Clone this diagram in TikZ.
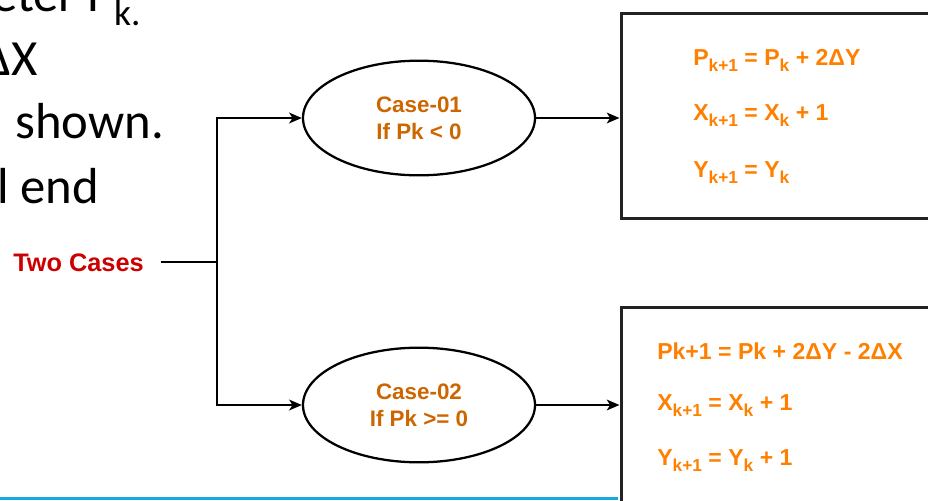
\documentclass[tikz,border=0pt]{standalone}
\usepackage{fontspec}
\setmainfont{Liberation Sans}
\newfontfamily\slidefont{Carlito}
\usetikzlibrary{arrows.meta,shapes.geometric}

\definecolor{eqorange}{RGB}{255,128,0}
\definecolor{caseorange}{RGB}{204,102,0}
\definecolor{casered}{RGB}{204,0,0}
\definecolor{rulecyan}{RGB}{27,168,224}
\definecolor{boxedge}{RGB}{34,34,34}

% lowered, smaller index such as k+1
\newcommand\lowidx[1]{\raisebox{-5pt}{\fontsize{13}{14}\selectfont #1}}

\begin{document}
\begin{tikzpicture}[x=0.75pt,y=-0.75pt,
  conn/.style={line width=1.7pt, draw=black},
  arrowed/.style={conn, -{Stealth[length=9.5pt,width=8pt,inset=2.5pt]}},
  casenode/.style={ellipse, draw=black, line width=1.7pt, minimum width=174pt,
    minimum height=86pt, inner sep=0pt, align=center, text=caseorange,
    font=\bfseries\fontsize{16.8}{20.5}\selectfont},
  resultbox/.style={draw=boxedge, line width=2.3pt, anchor=north west,
    inner sep=0pt, minimum width=249pt},
  eqtext/.style={anchor=base west, inner sep=0pt, text=eqorange,
    font=\bfseries\fontsize{17.3}{20}\selectfont},
  slidetext/.style={inner sep=0pt, anchor=base west,
    font=\slidefont\fontsize{38}{46}\selectfont},
]
\useasboundingbox (0,0) rectangle (928,500);
\clip (0,0) rectangle (928,500);

% slide text running behind the diagram
\node[slidetext] (s1) at (-8,11) {eter P\raisebox{-10.5pt}{\fontsize{28}{30}\selectfont k.}};
\node[slidetext, anchor=base east] (s2) at (38,75) {ΔX};
\node[slidetext] (s3) at (15,138) {shown.};
\node[slidetext] (s4) at (-3,203) {l end};

% cyan rule at the foot of the slide
\fill[rulecyan] (0,497) rectangle (618,500);

% result boxes (cut off at the right)
\node[resultbox, minimum height=154pt] (b1) at (619.5,11.5) {};
\node[resultbox, minimum height=187.5pt] (b2) at (619.5,305.5) {};

% the two cases
\node[casenode] (c1) at (419,118) {Case-01\\If Pk < 0};
\node[casenode] (c2) at (419,405) {Case-02\\If Pk >= 0};

% splitting label
\node[font=\bfseries\fontsize{19}{22}\selectfont, text=casered,
  inner xsep=12.5pt, inner ysep=0pt] (tc) at (78.5,263) {Two Cases};
\coordinate (j) at (217,262);

% connectors
\draw[conn] (tc.east |- j) -- (j);
\draw[arrowed] (j) |- (c1.west);
\draw[arrowed] (j) |- (c2.west);
\draw[arrowed] (c1.east) -- (c1.east -| b1.west);
\draw[arrowed] (c2.east) -- (c2.east -| b2.west);

% update rules
\node[eqtext] (p1) at (693,65) {P\lowidx{k+1} = P\lowidx{k} + 2ΔY};
\node[eqtext] (x1) at (693,120) {X\lowidx{k+1} = X\lowidx{k} + 1};
\node[eqtext] (y1) at (693,177) {Y\lowidx{k+1} = Y\lowidx{k}};
\node[eqtext] (p2) at (657,359) {Pk+1 = Pk + 2ΔY - 2ΔX};
\node[eqtext] (x2) at (657,410) {X\lowidx{k+1} = X\lowidx{k} + 1};
\node[eqtext] (y2) at (657,465) {Y\lowidx{k+1} = Y\lowidx{k} + 1};
\end{tikzpicture}
\end{document}
